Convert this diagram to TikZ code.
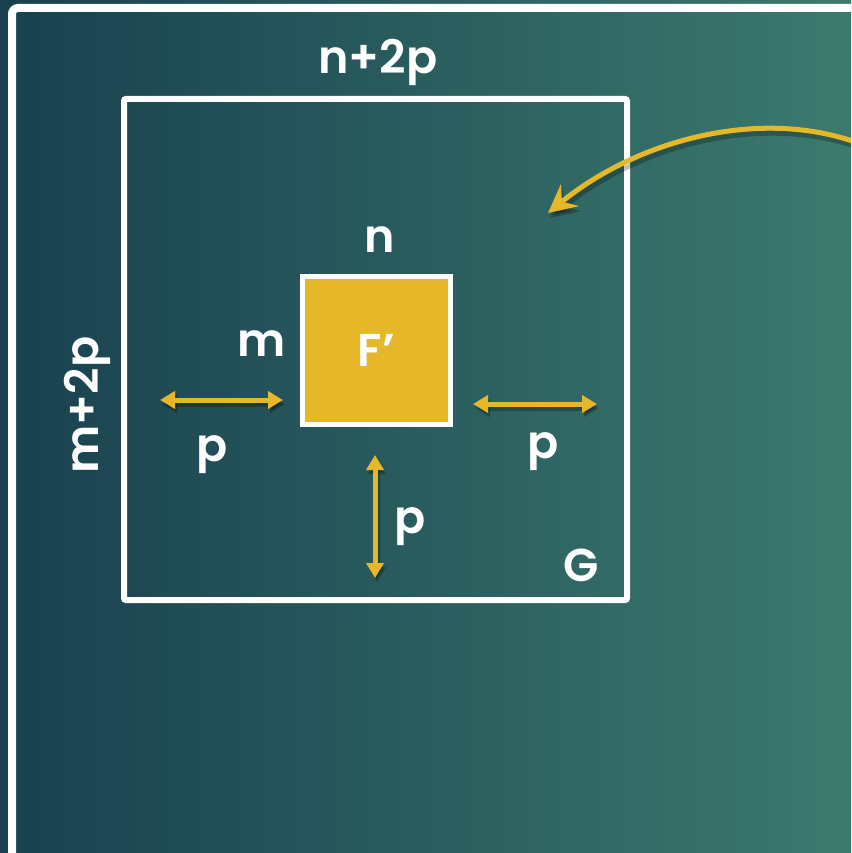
\documentclass[tikz,border=0pt]{standalone}
\usepackage{fontspec}
\setmainfont{Poppins}[BoldFont={Poppins SemiBold}]
\usetikzlibrary{arrows.meta}
\definecolor{gold}{HTML}{E6B729}
\definecolor{bgA}{HTML}{18404F}
\definecolor{bgB}{HTML}{3C7A6E}
\tikzset{
  lbl/.style={text=white,font=\fontsize{46}{50}\selectfont\bfseries,inner sep=0pt},
  dimarrow/.style={draw=gold,line width=5pt,{Triangle[length=15pt,width=17pt]}-{Triangle[length=15pt,width=17pt]}},
  shadowarrow/.style={draw=black,opacity=0.25,line width=5pt,{Triangle[length=15pt,width=17pt]}-{Triangle[length=15pt,width=17pt]}},
}
\begin{document}
\begin{tikzpicture}[x=1pt,y=-1pt]
\useasboundingbox (0,0) rectangle (851,853);
\begin{scope}
\clip (0,0) rectangle (851,853);
\shade[left color=bgA,right color=bgB] (0,0) rectangle (851,853);
% outer frame
\draw[white,line width=8pt,rounded corners=6pt] (12,8) rectangle (880,880);
% G box
\draw[white,line width=6pt,rounded corners=2pt] (124,99) rectangle (627,600);
% F' square
\node[draw=white,fill=gold,line width=5pt,minimum size=148pt,inner sep=0pt,
      text=white,font=\fontsize{46}{50}\selectfont\bfseries] (F) at (376.5,350) {F’};
% labels
\node[lbl] (top) at (378,62) {n+2p};
\node[lbl] (n) at (380,240) {n};
\node[lbl] (m) at (262,344) {m};
\node[lbl,rotate=90] (side) at (87,405) {m+2p};
\node[lbl] (pl) at (212,455) {p};
\node[lbl] (pr) at (543,452) {p};
\node[lbl] (pb) at (410,527) {p};
\node[lbl] (G) at (581,565) {G};
% dimension arrows
\coordinate (l1) at (160,400); \coordinate (l2) at (283,400);
\coordinate (r1) at (473,404); \coordinate (r2) at (597,404);
\coordinate (b1) at (375,455); \coordinate (b2) at (375,578);
\path[shadowarrow] ([shift={(2,4)}]l1) -- ([shift={(2,4)}]l2);
\path[shadowarrow] ([shift={(2,4)}]r1) -- ([shift={(2,4)}]r2);
\path[shadowarrow] ([shift={(2,4)}]b1) -- ([shift={(2,4)}]b2);
\path[dimarrow] (l1) -- (l2);
\path[dimarrow] (r1) -- (r2);
\path[dimarrow] (b1) -- (b2);
% curved arrow
\coordinate (cs) at (858,143);
\coordinate (ce) at (548,213);
\draw[black,opacity=0.25,line width=5pt,-{Stealth[length=28pt,width=28pt,inset=10pt]}]
  ([shift={(2,5)}]cs) .. controls ([shift={(2,5)}]762,108) and ([shift={(2,5)}]640,138) .. ([shift={(2,5)}]ce);
\draw[gold,line width=5pt,-{Stealth[length=28pt,width=28pt,inset=10pt]}]
  (cs) .. controls (762,108) and (640,138) .. (ce);
\end{scope}
\end{tikzpicture}
\end{document}
